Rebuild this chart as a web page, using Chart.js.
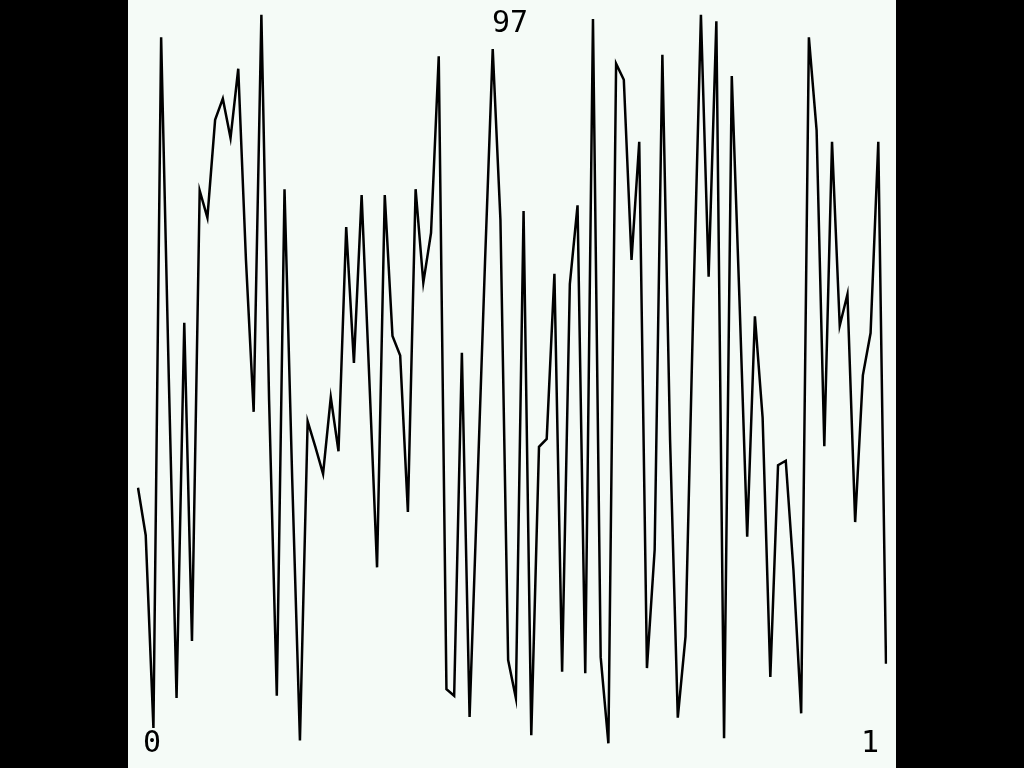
<!DOCTYPE html>
<html>
<head>
<meta charset="utf-8">
<script src="https://cdn.jsdelivr.net/npm/chart.js@4/dist/chart.umd.min.js"></script>
<style>
  html, body { margin: 0; padding: 0; background: #000; width: 1024px; height: 768px; overflow: hidden; }
  #wrap { position: absolute; left: 128px; top: 0; width: 768px; height: 768px; background: #f5fbf7; }
  canvas { display: block; }
</style>
</head>
<body>
<div id="wrap"><canvas id="c" width="768" height="768"></canvas></div>
<script>
const titleText = "97";
const rangeLabels = ["0", "1"];
const categories = Array.from({length: 98}, (_, i) => String(i));
const values = [
  35.1, 28.6, 2.2, 96.8, 49.9, 6.3, 57.7, 14.1, 75.8, 72.1,
  85.5, 88.4, 83.0, 92.5, 66.3, 45.5, 99.9, 47.1, 6.6, 76.0,
  36.2, 0.5, 44.2, 40.7, 37.0, 47.5, 40.1, 70.8, 52.2, 75.2,
  49.9, 24.2, 75.2, 55.9, 53.2, 31.8, 76.0, 63.2, 70.0, 94.2,
  7.5, 6.6, 53.6, 3.7, 34.8, 66.0, 95.2, 71.8, 11.5, 6.3,
  73.0, 1.2, 40.7, 41.8, 64.4, 9.9, 63.0, 73.8, 9.7, 99.3,
  11.9, 0.1, 93.2, 91.0, 66.3, 82.5, 10.4, 26.6, 94.4, 41.6,
  3.6, 14.7, 59.5, 99.9, 64.0, 99.0, 0.8, 91.5, 60.8, 28.4,
  58.6, 44.7, 9.2, 38.2, 38.8, 23.8, 4.2, 96.8, 84.1, 40.8,
  82.5, 57.3, 61.6, 30.4, 50.5, 56.3, 82.5, 11.0
];

const textPlugin = {
  id: 'textOverlay',
  afterDraw(chart) {
    const ctx = chart.ctx;
    const a = chart.chartArea;
    ctx.save();
    ctx.fillStyle = '#000';
    ctx.font = '30px "DejaVu Sans Mono", "Liberation Mono", monospace';
    ctx.textBaseline = 'alphabetic';
    ctx.textAlign = 'center';
    ctx.fillText(titleText, chart.width / 2 - 2, 32);
    ctx.fillText(rangeLabels[0], a.left + 14, 752);
    ctx.fillText(rangeLabels[1], a.right - 16, 752);
    ctx.restore();
  }
};

new Chart(document.getElementById('c'), {
  type: 'line',
  data: {
    labels: categories,
    datasets: [{
      data: values,
      borderColor: '#000',
      borderWidth: 2.5,
      pointRadius: 0,
      tension: 0,
      fill: false
    }]
  },
  options: {
    responsive: false,
    animation: false,
    devicePixelRatio: 1,
    layout: { padding: { left: 10, right: 10, top: 14, bottom: 24 } },
    plugins: { legend: { display: false }, tooltip: { enabled: false }, title: { display: false } },
    scales: {
      x: { display: false, offset: false },
      y: { display: false, min: 0, max: 100 }
    }
  },
  plugins: [textPlugin]
});
</script>
</body>
</html>
